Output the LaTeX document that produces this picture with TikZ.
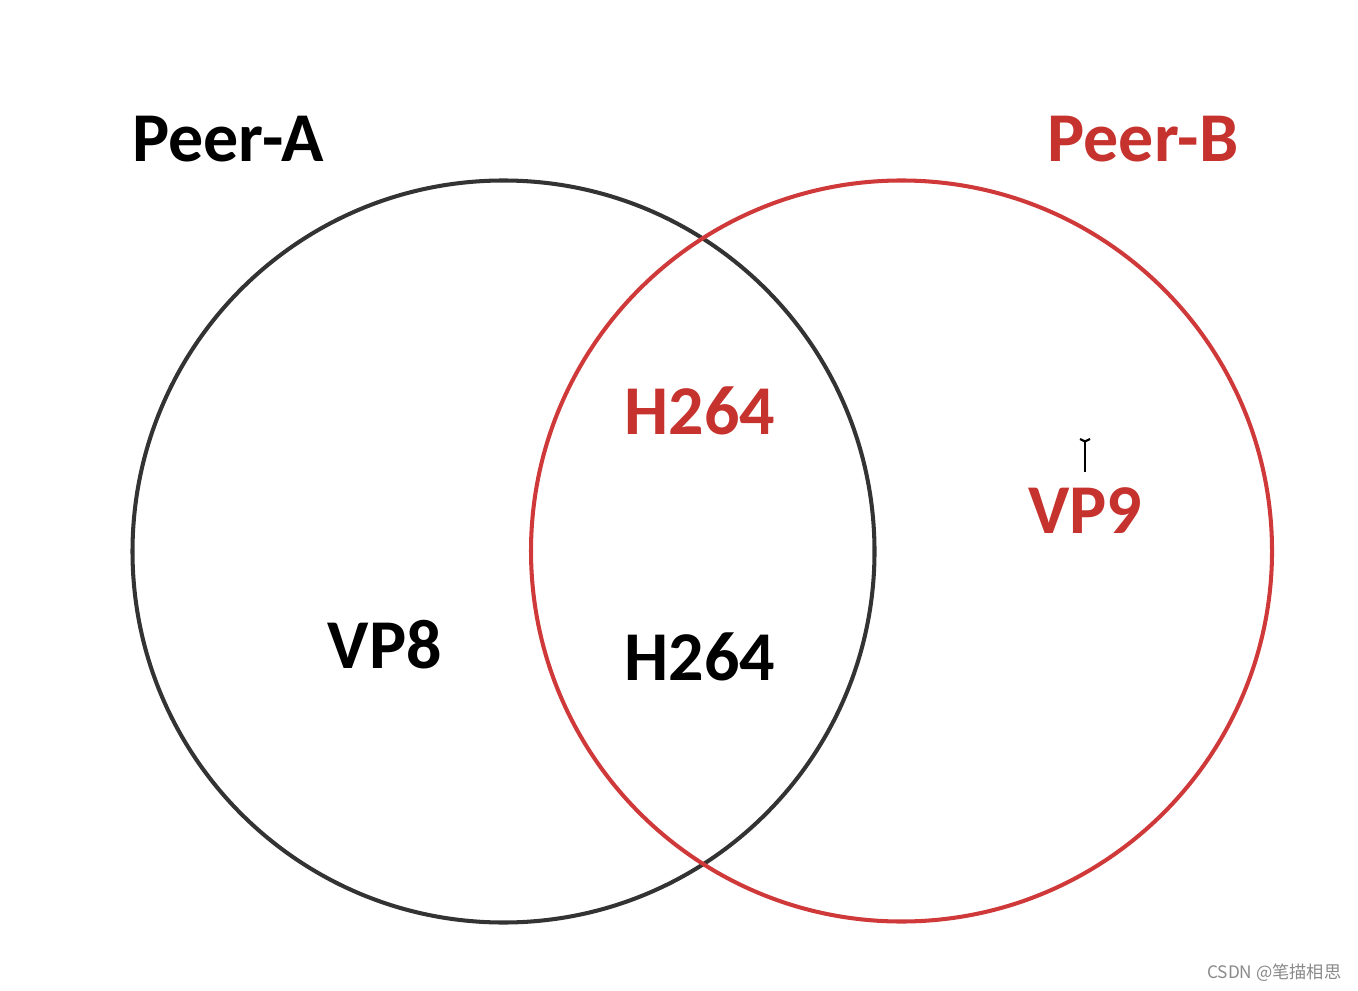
\documentclass[tikz,border=0pt]{standalone}
\usepackage{fontspec}
\setmainfont{Carlito}
\newfontfamily\cjkfont{Noto Sans CJK SC}
\definecolor{ringblack}{HTML}{333333}
\definecolor{ringred}{HTML}{D0393A}
\definecolor{txtred}{HTML}{C6332E}
\definecolor{wmgray}{HTML}{8A8A8A}
\begin{document}
\begin{tikzpicture}[
  ring/.style={line width=1.15pt},
  lbl/.style={anchor=base, inner sep=0pt, font=\fontsize{19.9}{24}\selectfont\bfseries},
]
\useasboundingbox (0,0) rectangle (13.58,9.9);
\fill[white] (0,0) rectangle (13.58,9.9);
% circles
\node[ring, draw=ringblack, circle, minimum size=7.42cm, inner sep=0pt] (ca) at (5.035,4.385) {};
\node[ring, draw=ringred, circle, minimum size=7.41cm, inner sep=0pt] (cb) at (9.015,4.39) {};
% titles
\node[lbl, text=black] (pa) at (2.28,8.28) {Peer-A};
\node[lbl, text=txtred] (pb) at (11.43,8.28) {Peer-B};
% contents
\node[lbl, text=txtred] (h1) at (7.00,5.55) {H264};
\node[lbl, text=txtred] (v9) at (10.85,4.57) {VP9};
\node[lbl, text=black] (v8) at (3.85,3.22) {VP8};
\node[lbl, text=black] (h2) at (7.00,3.10) {H264};
% text cursor
\coordinate (ct) at (10.85,5.49);
\coordinate (cbm) at (10.85,5.18);
\draw[line width=0.7pt, black] (ct) -- (cbm);
\draw[line width=0.6pt, black] ([xshift=-0.05cm,yshift=0.02cm]ct) -- ([xshift=-0.01cm]ct) -- ([xshift=0.01cm]ct) -- ([xshift=0.05cm,yshift=0.02cm]ct);
% watermark
\node[anchor=base east, inner sep=0pt, text=wmgray, font=\cjkfont\fontsize{4.9}{6}\selectfont] (wm) at (13.42,0.12) {CSDN @笔描相思};
\end{tikzpicture}
\end{document}
